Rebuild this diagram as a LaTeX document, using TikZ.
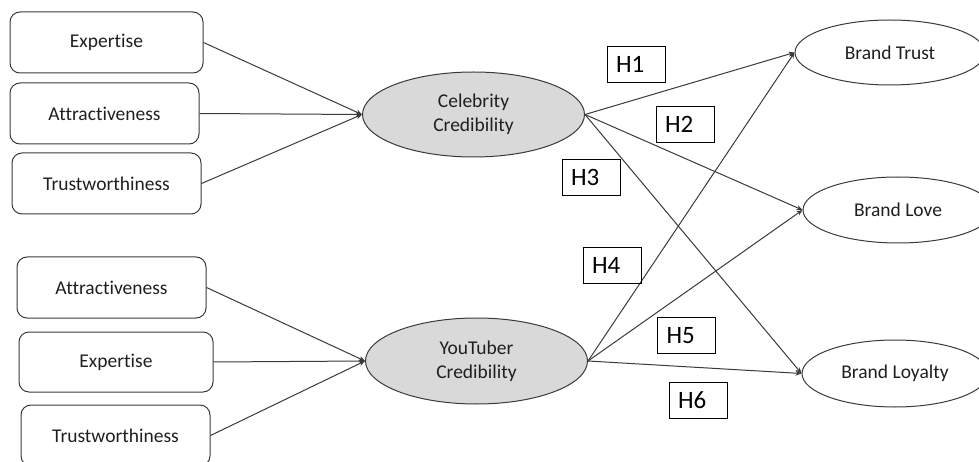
\documentclass[tikz,border=0pt]{standalone}
\usepackage{fontspec}
\setmainfont{Carlito}[Ligatures={NoCommon,NoRare}]
\usetikzlibrary{shapes.geometric,arrows.meta}
\definecolor{txt}{HTML}{1F1F1F}
\definecolor{edge}{HTML}{3A3A3A}
\definecolor{fillg}{HTML}{D9D9D9}
\tikzset{
  itembox/.style={draw=edge, line width=1pt, rounded corners=10pt, inner sep=0pt, text=txt,
    font=\fontsize{19.5}{23}\selectfont},
  construct/.style={ellipse, draw=edge, line width=1pt, fill=fillg, inner sep=0pt, text=txt,
    align=center, font=\fontsize{19.5}{24}\selectfont, minimum width=222pt, minimum height=85pt},
  outcome/.style={ellipse, draw=edge, line width=1pt, fill=white, inner sep=0pt, text=txt,
    font=\fontsize{19.5}{23}\selectfont, minimum height=66pt},
  hyp/.style={draw=black, line width=0.8pt, inner ysep=0pt, inner xsep=9pt, text width=40pt,
    align=left, minimum height=36pt, font=\fontsize{25}{28}\selectfont, text=black},
  link/.style={draw=edge, line width=1pt, -{Stealth[length=6pt,width=5pt]}}
}
\begin{document}
\begin{tikzpicture}[x=1pt,y=-1pt]
\useasboundingbox (0,0) rectangle (979,462);
% upper items
\node[itembox, minimum width=193pt, minimum height=61pt] (e1) at (106.5,42.5) {Expertise};
\node[itembox, minimum width=189pt, minimum height=61pt] (a1) at (104.5,113.5) {Attractiveness};
\node[itembox, minimum width=189pt, minimum height=61pt] (t1) at (106.5,183.5) {Trustworthiness};
% lower items
\node[itembox, minimum width=189pt, minimum height=61pt] (a2) at (111.5,287.5) {Attractiveness};
\node[itembox, minimum width=194pt, minimum height=60pt] (e2) at (116,362) {Expertise};
\node[itembox, minimum width=189pt, minimum height=61pt] (t2) at (115.5,435.5) {Trustworthiness};
% constructs
\node[construct] (cc) at (473.5,114.5) {Celebrity\\Credibility};
\node[construct, minimum height=86pt] (yc) at (476.5,361) {YouTuber\\Credibility};
% outcomes
\node[outcome, minimum width=190pt, minimum height=65pt] (bt) at (890,52.5) {Brand Trust};
\node[outcome, minimum width=190pt] (bl) at (898,210) {Brand Love};
\node[outcome, minimum width=186pt, minimum height=67pt] (by) at (895,373.5) {Brand Loyalty};
% connectors
\draw[link] (e1.east) -- (cc.west);
\draw[link] (a1.east) -- (cc.west);
\draw[link] (t1.east) -- (cc.west);
\draw[link] (a2.east) -- (yc.west);
\draw[link] (e2.east) -- (yc.west);
\draw[link] (t2.east) -- (yc.west);
\draw[link] (cc.east) -- (bt.west);
\draw[link] (cc.east) -- (bl.west);
\draw[link] (cc.east) -- (by.west);
\draw[link] (yc.east) -- (bt.west);
\draw[link] (yc.east) -- (bl.west);
\draw[link] (yc.east) -- (by.west);
% hypothesis labels
\node[hyp] (h1) at (636,64) {H1};
\node[hyp] (h2) at (685,124) {H2};
\node[hyp] (h3) at (591,177.5) {H3};
\node[hyp] (h4) at (612,265.5) {H4};
\node[hyp] (h5) at (686.5,335.5) {H5};
\node[hyp] (h6) at (698,400.5) {H6};
\end{tikzpicture}
\end{document}
